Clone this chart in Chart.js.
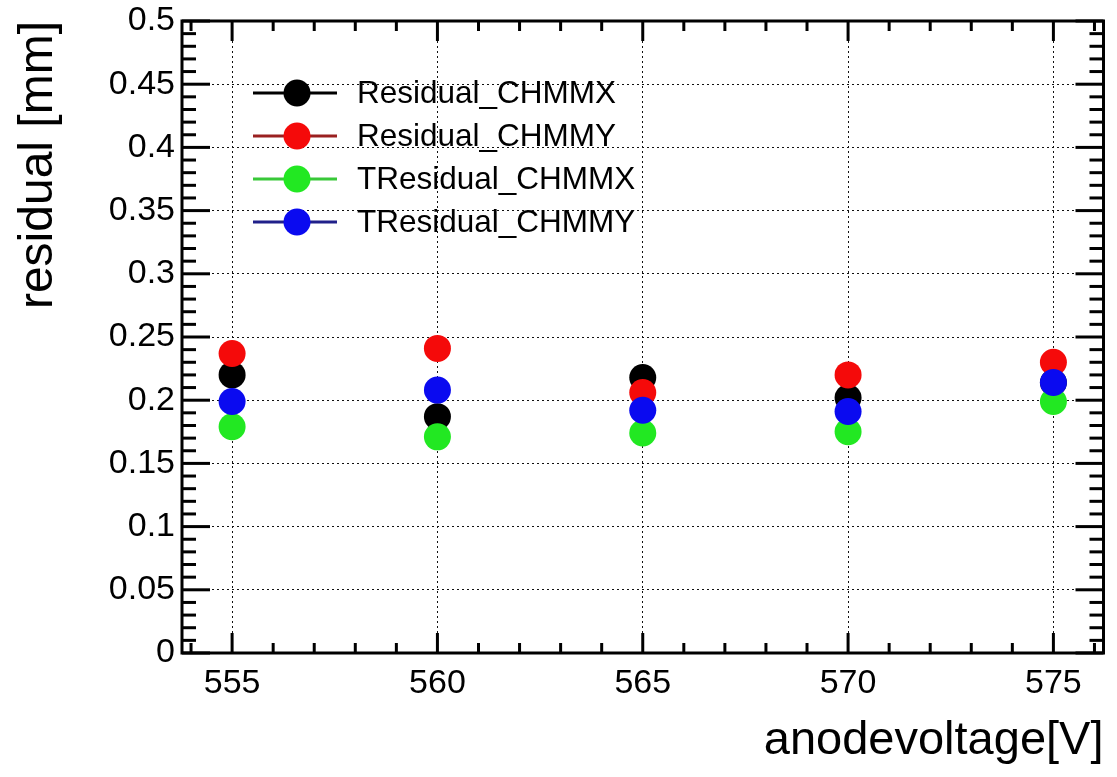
<!DOCTYPE html>
<html>
<head>
<meta charset="utf-8">
<script src="https://cdn.jsdelivr.net/npm/chart.js@4.4.1/dist/chart.umd.min.js"></script>
<style>
    body { margin: 0; background: #fff; }
    #wrap { width: 1117px; height: 777px; }
</style>
</head>
<body>
<div id="wrap"><canvas id="residChart" width="1117" height="777"></canvas></div>
<script>
// values
const voltages = [555, 560, 565, 570, 575];
const residualX = [0.220, 0.187, 0.218, 0.202, 0.214];
const residualY = [0.237, 0.241, 0.206, 0.220, 0.230];
const tresidualX = [0.179, 0.171, 0.174, 0.175, 0.199];
const tresidualY = [0.199, 0.208, 0.192, 0.191, 0.214];

const seriesNames = ['Residual_CHMMX', 'Residual_CHMMY', 'TResidual_CHMMX', 'TResidual_CHMMY'];
const seriesValues = [residualX, residualY, tresidualX, tresidualY];
const markerColors = ['#000000', '#f50a0a', '#22e822', '#0a0af0'];
const legendLineColors = ['#000000', '#9a2020', '#38c838', '#20208a'];

const xTicks = [555, 560, 565, 570, 575];
const yTicks = [0, 0.05, 0.1, 0.15, 0.2, 0.25, 0.3, 0.35, 0.4, 0.45, 0.5];
const xMinorStep = 1;
const yMinorStep = 0.01;

const FONT = 'Liberation Sans, Arial, Helvetica, sans-serif';

function strokeLine(ctx, x1, y1, x2, y2) {
    ctx.beginPath();
    ctx.moveTo(x1, y1);
    ctx.lineTo(x2, y2);
    ctx.stroke();
}

// ROOT style frame with ticks on all four sides
const frameTicks = {
    id: 'frameTicks',
    beforeDatasetsDraw(chart) {
        const { ctx, chartArea: a, scales: { x, y } } = chart;
        ctx.save();
        ctx.strokeStyle = '#000';
        ctx.lineWidth = 3;
        ctx.setLineDash([]);

        const xs = Math.ceil(x.min / xMinorStep);
        const xe = Math.floor(x.max / xMinorStep);
        for (let k = xs; k <= xe; k++) {
            const v = k * xMinorStep;
            const px = x.getPixelForValue(v);
            const len = xTicks.includes(v) ? 20 : 10;
            strokeLine(ctx, px, a.bottom, px, a.bottom - len);
            strokeLine(ctx, px, a.top, px, a.top + len);
        }

        const ye = Math.round(y.max / yMinorStep);
        for (let k = 0; k <= ye; k++) {
            const py = y.getPixelForValue(k * yMinorStep);
            const len = k % 5 === 0 ? 28 : 14;
            strokeLine(ctx, a.left, py, a.left + len, py);
            strokeLine(ctx, a.right, py, a.right - len, py);
        }

        ctx.strokeRect(a.left, a.top, a.right - a.left, a.bottom - a.top);
        ctx.restore();
    }
};

const legendBox = {
    id: 'legendBox',
    afterDatasetsDraw(chart) {
        const { ctx, chartArea: a } = chart;
        const x0 = a.left + 71;
        const y0 = a.top + 72;
        const rowH = 43;
        ctx.save();
        chart.data.datasets.forEach((ds, i) => {
            const cy = y0 + i * rowH;
            ctx.strokeStyle = legendLineColors[i];
            ctx.lineWidth = 3;
            strokeLine(ctx, x0, cy, x0 + 84, cy);
            ctx.fillStyle = ds.backgroundColor;
            ctx.beginPath();
            ctx.arc(x0 + 44, cy, 13.5, 0, Math.PI * 2);
            ctx.fill();
            ctx.fillStyle = '#000';
            ctx.font = '31.5px ' + FONT;
            ctx.textAlign = 'left';
            ctx.textBaseline = 'middle';
            ctx.fillText(ds.label, x0 + 104, cy + 1);
        });
        ctx.restore();
    }
};

const drawOrder = [4, 3, 2, 1]; // black at bottom, blue on top

const datasets = seriesNames.map((name, i) => ({
    label: name,
    data: voltages.map((v, j) => ({ x: v, y: seriesValues[i][j] })),
    backgroundColor: markerColors[i],
    borderColor: markerColors[i],
    borderWidth: 0,
    pointRadius: 13.5,
    pointHoverRadius: 13.5,
    showLine: false,
    order: drawOrder[i]
}));

new Chart(document.getElementById('residChart'), {
    type: 'scatter',
    data: { datasets: datasets },
    options: {
        responsive: false,
        animation: false,
        devicePixelRatio: 1,
        layout: { padding: { top: 21, right: 7, left: 0, bottom: 0 } },
        plugins: {
            legend: { display: false },
            tooltip: { enabled: false }
        },
        scales: {
            x: {
                type: 'linear',
                min: 553.78,
                max: 576.22,
                afterBuildTicks: s => { s.ticks = xTicks.map(v => ({ value: v })); },
                afterFit: s => {
                    s.height = 124;
                    s.paddingLeft = 0;
                    s.paddingRight = 0;
                },
                grid: { color: '#111', lineWidth: 1, drawTicks: false },
                border: { display: false, dash: [2, 3] },
                ticks: {
                    color: '#000',
                    padding: 10,
                    maxRotation: 0,
                    font: { family: FONT, size: 34 }
                },
                title: {
                    display: true,
                    text: 'anodevoltage[V]',
                    align: 'end',
                    color: '#000',
                    padding: { top: 0, bottom: 8 },
                    font: { family: FONT, size: 47 }
                }
            },
            y: {
                type: 'linear',
                min: 0,
                max: 0.5,
                afterBuildTicks: s => { s.ticks = yTicks.map(v => ({ value: v })); },
                afterFit: s => {
                    s.width = 182;
                    s.paddingTop = 0;
                    s.paddingBottom = 0;
                },
                grid: { color: '#111', lineWidth: 1, drawTicks: false },
                border: { display: false, dash: [2, 3] },
                ticks: {
                    color: '#000',
                    padding: 7,
                    font: { family: FONT, size: 34 },
                    callback: v => String(+v.toFixed(2))
                },
                title: {
                    display: true,
                    text: 'residual [mm]',
                    align: 'end',
                    color: '#000',
                    padding: { top: 10, bottom: 0 },
                    font: { family: FONT, size: 48 }
                }
            }
        }
    },
    plugins: [frameTicks, legendBox]
});
</script>
</body>
</html>
